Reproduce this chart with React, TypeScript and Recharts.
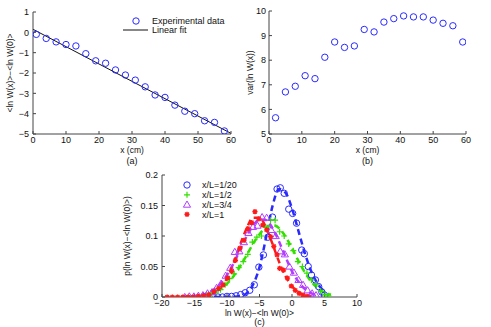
import { ComposedChart, Scatter, Line, XAxis, YAxis, Legend } from "recharts";

const FONT = '"Liberation Sans", Arial, Helvetica, sans-serif';
const AXIS = "#444";
const INK = "#111";
const BLUE = "#2a2aff";
const GREEN = "#33e000";
const MAGENTA = "#b23cff";
const RED = "#ff1a1a";

// (a) mean of ln W along the sample
const posA = [1, 4, 7, 10, 13, 16, 19, 22, 25, 28, 31, 34, 37, 40, 43, 46, 49, 52, 55, 58];
const meanA = [-0.1, -0.3, -0.47, -0.6, -0.67, -1.05, -1.4, -1.52, -1.85, -2.1, -2.35, -2.68, -3.08, -3.2, -3.58, -3.88, -4.0, -4.35, -4.43, -4.85];
const fitPos = [0, 60];
const fitVal = [0.15, -4.97];

// (b) variance of ln W
const posB = [2, 5, 8, 11, 14, 17, 20, 23, 26, 29, 32, 35, 38, 41, 44, 47, 50, 53, 56, 59];
const varB = [5.66, 6.71, 6.94, 7.37, 7.25, 8.12, 8.74, 8.52, 8.58, 9.25, 9.15, 9.55, 9.69, 9.8, 9.76, 9.76, 9.63, 9.5, 9.4, 8.74];

// (c) distributions, measured points
const blueX = [-13.5, -12.8, -12.1, -11.4, -10.7, -10.0, -9.3, -8.6, -7.9, -7.2, -6.5, -5.8, -5.1, -4.4, -3.7, -3.0, -2.3, -1.8, -1.2, -0.5, 0.1, 0.7, 1.5, 1.9, 2.5, 3.0, 3.6, 4.1, 4.6, 5.0];
const blueY = [0, 0, 0, 0, 0, 0.001, 0.001, 0.002, 0.004, 0.007, 0.011, 0.02, 0.049, 0.069, 0.098, 0.131, 0.177, 0.179, 0.17, 0.144, 0.137, 0.121, 0.077, 0.071, 0.05, 0.036, 0.028, 0.017, 0.008, 0.003];
const greenX = [-14.5, -13.8, -13.1, -12.4, -11.7, -11.0, -10.3, -9.6, -8.9, -8.2, -7.5, -6.8, -6.1, -5.4, -4.7, -4.0, -3.3, -2.6, -1.9, -1.2, -0.5, 0.2, 0.9, 1.6, 2.3, 3.0, 3.7, 4.4, 5.1, 5.6];
const greenY = [0, 0.001, 0.002, 0.004, 0.008, 0.012, 0.02, 0.03, 0.038, 0.048, 0.058, 0.07, 0.09, 0.098, 0.1, 0.114, 0.126, 0.126, 0.107, 0.1, 0.087, 0.076, 0.058, 0.05, 0.039, 0.028, 0.02, 0.01, 0.004, 0.002];
const magentaX = [-16.5, -15.8, -15.1, -14.4, -13.7, -13.0, -12.3, -11.6, -10.9, -10.2, -9.5, -8.8, -8.1, -7.4, -6.7, -6.0, -5.3, -4.6, -3.9, -3.2, -2.5, -1.8, -1.1, -0.4, 0.3, 1.0, 1.7, 2.4, 3.1, 3.7];
const magentaY = [0, 0.001, 0.001, 0.002, 0.003, 0.006, 0.008, 0.015, 0.022, 0.035, 0.048, 0.074, 0.075, 0.09, 0.105, 0.115, 0.117, 0.131, 0.13, 0.11, 0.1, 0.075, 0.07, 0.05, 0.04, 0.028, 0.02, 0.011, 0.006, 0.003];
const redX = [-19.2, -18.4, -17.6, -16.8, -16.0, -15.2, -14.4, -13.6, -12.8, -12.0, -11.3, -10.6, -9.9, -9.3, -8.7, -8.0, -7.4, -6.8, -6.2, -5.7, -5.1, -4.5, -3.9, -3.3, -2.8, -2.3, -1.9, -1.3, -0.7, -0.1, 0.5, 1.1, 1.7, 2.3];
const redY = [0, 0, 0, 0, 0, 0, 0.001, 0.002, 0.004, 0.009, 0.014, 0.02, 0.031, 0.042, 0.06, 0.08, 0.093, 0.112, 0.122, 0.14, 0.128, 0.118, 0.11, 0.099, 0.083, 0.069, 0.047, 0.044, 0.031, 0.018, 0.011, 0.006, 0.003, 0.001];

// (c) fitted curves (dashed)
const blueFitX = [-12, -11, -10, -9, -8, -7, -6, -5, -4, -3, -2, -1, 0, 1, 2, 3, 4, 5];
const blueFitY = [0, 0, 0, 0.0003, 0.0015, 0.006, 0.02, 0.049, 0.097, 0.149, 0.177, 0.171, 0.145, 0.108, 0.071, 0.041, 0.021, 0.009];
const greenFitX = [-16, -15, -14, -13, -12, -11, -10, -9, -8, -7, -6, -5, -4, -3, -2, -1, 0, 1, 2, 3, 4, 5, 6];
const greenFitY = [0.0003, 0.0008, 0.0018, 0.0037, 0.0072, 0.013, 0.022, 0.034, 0.05, 0.068, 0.087, 0.103, 0.114, 0.118, 0.113, 0.099, 0.08, 0.059, 0.04, 0.025, 0.014, 0.007, 0.004];
const magentaFitX = [-17, -16, -15, -14, -13, -12, -11, -10, -9, -8, -7, -6, -5, -4, -3, -2, -1, 0, 1, 2, 3, 4];
const magentaFitY = [0.0002, 0.0005, 0.0013, 0.003, 0.0063, 0.0123, 0.022, 0.036, 0.055, 0.077, 0.099, 0.117, 0.127, 0.126, 0.113, 0.091, 0.066, 0.042, 0.025, 0.013, 0.006, 0.0025];
const redFitX = [-17, -16, -15, -14, -13, -12, -11, -10, -9, -8, -7, -6, -5, -4, -3, -2, -1, 0, 1, 2, 3];
const redFitY = [0, 0.0001, 0.0002, 0.0008, 0.0024, 0.0064, 0.015, 0.031, 0.055, 0.085, 0.112, 0.13, 0.13, 0.114, 0.087, 0.058, 0.034, 0.0175, 0.0079, 0.0031, 0.0011];

const legendC = ["x/L=1/20", "x/L=1/2", "x/L=3/4", "x/L=1"];

const ticksAx = [0, 10, 20, 30, 40, 50, 60];
const ticksAy = [-5, -4, -3, -2, -1, 0, 1];
const ticksBy = [5, 6, 7, 8, 9, 10];
const ticksCx = [-20, -15, -10, -5, 0, 5, 10];
const ticksCy = [0, 0.05, 0.1, 0.15, 0.2];

const pts = (xs: number[], ys: number[]) => xs.map((x, i) => ({ x, y: ys[i] }));
const fmt = (v: number) => String(v).replace("-", "\u2212");
const tickStyle = { fontSize: 9, fill: INK, fontFamily: FONT };
const labelStyle = { fontSize: 8.5, fill: INK, fontFamily: FONT };

// marker shapes
const ring = (cx: number, cy: number) => (
  <circle cx={cx} cy={cy} r={3.2} fill="none" stroke={BLUE} strokeWidth={1} />
);
const plus = (cx: number, cy: number) => (
  <path d={`M${cx - 3},${cy}h6M${cx},${cy - 3}v6`} stroke={GREEN} strokeWidth={1.2} fill="none" />
);
const tri = (cx: number, cy: number) => (
  <path d={`M${cx},${cy - 3.6}L${cx + 3.6},${cy + 2.6}L${cx - 3.6},${cy + 2.6}Z`} stroke={MAGENTA} strokeWidth={1} fill="none" />
);
const star = (cx: number, cy: number) => (
  <path
    d={`M${cx - 2.6},${cy}h5.2M${cx},${cy - 2.6}v5.2M${cx - 1.9},${cy - 1.9}l3.8,3.8M${cx - 1.9},${cy + 1.9}l3.8,-3.8`}
    stroke={RED}
    strokeWidth={1.3}
    fill="none"
  />
);
const markers = [ring, plus, tri, star];

// MATLAB style box: inward ticks on all four sides
function frame(xd: number[], xt: number[], yd: number[], yt: number[], yw: number, xh: number, xLabel: string, yLabel: string, yLabelOff: number, xLabelOff: number, xMargin: number, yMargin: number) {
  return [
    <XAxis
      key="xb"
      dataKey="x"
      type="number"
      domain={xd}
      ticks={xt}
      interval={0}
      allowDataOverflow
      height={xh}
      stroke={AXIS}
      tickSize={-3}
      tickMargin={xMargin}
      tick={tickStyle}
      tickFormatter={fmt}
      label={{ value: xLabel, position: "insideBottom", offset: xLabelOff, ...labelStyle }}
    />,
    <XAxis key="xt" xAxisId="t" orientation="top" type="number" domain={xd} ticks={xt} interval={0} allowDataOverflow height={0} stroke={AXIS} tickSize={-3} tick={false} />,
    <YAxis
      key="yl"
      dataKey="y"
      type="number"
      domain={yd}
      ticks={yt}
      interval={0}
      allowDataOverflow
      width={yw}
      stroke={AXIS}
      tickSize={-3}
      tickMargin={yMargin}
      tick={tickStyle}
      tickFormatter={fmt}
      label={{ value: yLabel, angle: -90, position: "insideLeft", offset: yLabelOff, style: { textAnchor: "middle" }, ...labelStyle }}
    />,
    <YAxis key="yr" yAxisId="r" orientation="right" type="number" domain={yd} ticks={yt} interval={0} allowDataOverflow width={0} stroke={AXIS} tickSize={-3} tick={false} />,
  ];
}

const Caption = ({ text, x, y }: { text: string; x: number; y: number }) => (
  <div style={{ position: "absolute", left: x - 20, top: y - 4.5, width: 40, textAlign: "center", fontSize: 9, lineHeight: "9px", fontFamily: FONT, color: INK }}>
    {text}
  </div>
);

export default function App() {
  return (
    <div style={{ position: "relative", width: 491, height: 327, background: "#fff", overflow: "hidden" }}>
      <style>{"body{margin:0}"}</style>

      {/* (a) */}
      <div style={{ position: "absolute", left: 0, top: 0 }}>
        <ComposedChart width={245} height={165} margin={{ top: 12, right: 14, bottom: 0, left: 0 }}>
          {frame([0, 60], ticksAx, [-5, 1], ticksAy, 33, 31, "x (cm)", "<ln W(x)>\u2212<ln W(0)>", 10, 12, 6, 7)}
          <Scatter data={pts(posA, meanA)} isAnimationActive={false} shape={(p: any) => ring(p.cx, p.cy)} />
          <Line data={pts(fitPos, fitVal)} dataKey="y" type="linear" stroke={INK} strokeWidth={1} dot={false} activeDot={false} isAnimationActive={false} />
          <Legend
            layout="vertical"
            align="center"
            verticalAlign="middle"
            wrapperStyle={{ left: 122, top: 16, width: 110, height: 24 }}
            content={() => (
              <svg width={110} height={24} style={{ overflow: "visible", display: "block" }}>
                <circle cx={14} cy={5} r={3.2} fill="none" stroke={BLUE} strokeWidth={1} />
                <text x={30} y={8} fontSize={9} fontFamily={FONT} fill={INK}>Experimental data</text>
                <line x1={1} x2={26} y1={14} y2={14} stroke={INK} strokeWidth={1} />
                <text x={30} y={17} fontSize={9} fontFamily={FONT} fill={INK}>Linear fit</text>
              </svg>
            )}
          />
        </ComposedChart>
      </div>
      <Caption text="(a)" x={132} y={161} />

      {/* (b) */}
      <div style={{ position: "absolute", left: 245, top: 0 }}>
        <ComposedChart width={246} height={165} margin={{ top: 11, right: 25, bottom: 0, left: 0 }}>
          {frame([0, 60], ticksAx, [5, 10], ticksBy, 24, 31, "x (cm)", "var(ln W(x))", 5, 12, 6, 6)}
          <Scatter data={pts(posB, varB)} isAnimationActive={false} shape={(p: any) => ring(p.cx, p.cy)} />
        </ComposedChart>
      </div>
      <Caption text="(b)" x={367.5} y={161} />

      {/* (c) */}
      <div style={{ position: "absolute", left: 110, top: 160 }}>
        <ComposedChart width={260} height={167} margin={{ top: 15, right: 13, bottom: 0, left: 0 }}>
          {frame([-20, 10], ticksCx, [0, 0.2], ticksCy, 52, 30, "ln W(x)\u2212<ln W(0)>", "p(ln W(x)\u2212<ln W(0)>)", 17, 11, 6, 7)}
          <Scatter data={pts(blueX, blueY)} isAnimationActive={false} shape={(p: any) => ring(p.cx, p.cy)} />
          <Scatter data={pts(greenX, greenY)} isAnimationActive={false} shape={(p: any) => plus(p.cx, p.cy)} />
          <Scatter data={pts(magentaX, magentaY)} isAnimationActive={false} shape={(p: any) => tri(p.cx, p.cy)} />
          <Scatter data={pts(redX, redY)} isAnimationActive={false} shape={(p: any) => star(p.cx, p.cy)} />
          <Line data={pts(blueFitX, blueFitY)} dataKey="y" type="monotone" stroke={BLUE} strokeWidth={2.5} strokeDasharray="6 4" dot={false} activeDot={false} isAnimationActive={false} />
          <Line data={pts(greenFitX, greenFitY)} dataKey="y" type="monotone" stroke={GREEN} strokeWidth={2.5} strokeDasharray="6 4" dot={false} activeDot={false} isAnimationActive={false} />
          <Line data={pts(magentaFitX, magentaFitY)} dataKey="y" type="monotone" stroke={MAGENTA} strokeWidth={2.5} strokeDasharray="6 4" dot={false} activeDot={false} isAnimationActive={false} />
          <Line data={pts(redFitX, redFitY)} dataKey="y" type="monotone" stroke={RED} strokeWidth={2.5} strokeDasharray="6 4" dot={false} activeDot={false} isAnimationActive={false} />
          <Legend
            layout="vertical"
            align="center"
            verticalAlign="middle"
            wrapperStyle={{ left: 70, top: 20, width: 70, height: 40 }}
            content={() => (
              <svg width={70} height={40} style={{ overflow: "visible", display: "block" }}>
                {legendC.map((name, i) => {
                  const cy = 5 + i * 9.8;
                  return (
                    <g key={name}>
                      {markers[i](7, cy)}
                      <text x={22} y={cy + 3.2} fontSize={9} fontFamily={FONT} fill={INK}>{name}</text>
                    </g>
                  );
                })}
              </svg>
            )}
          />
        </ComposedChart>
      </div>
      <Caption text="(c)" x={259.5} y={322} />
    </div>
  );
}
